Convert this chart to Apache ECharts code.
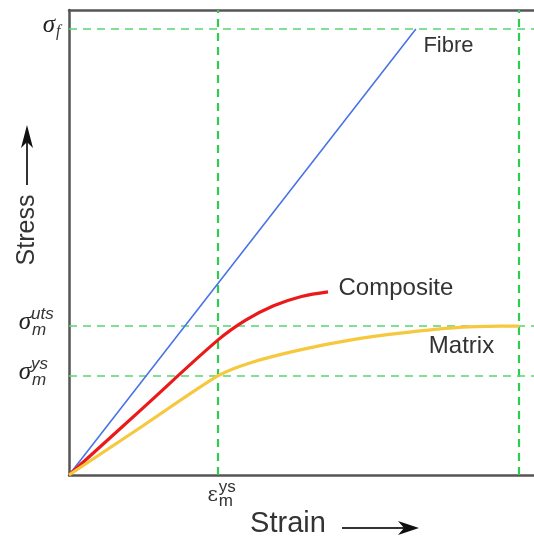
<!DOCTYPE html>
<html><head><meta charset="utf-8">
<script src="https://cdn.jsdelivr.net/npm/echarts@6/dist/echarts.min.js"></script>
<style>html,body{margin:0;padding:0;background:#fff}#c{width:534px;height:537px}</style>
</head><body><div id="c"></div>
<script>
// ---- data (arbitrary units) ----
const fibreX = [0, 37.3, 74.6];
const fibreY = [0, 47.95, 95.9];
const compositeX = [0, 16.0, 32.0, 38.0, 44.0, 50.0, 55.7];
const compositeY = [0, 14.5, 29.0, 33.3, 36.4, 38.4, 39.4];
const matrixX = [0, 16.0, 32.0, 38.9, 49.7, 60.4, 71.2, 81.9, 92.7, 96.8];
const matrixY = [0, 10.65, 21.3, 24.1, 26.9, 29.0, 30.5, 31.6, 32.0, 32.0];
const seriesNames = ['Fibre', 'Composite', 'Matrix'];
const yTickValues = [95.9, 32.0, 21.3];
const yTickSub = ['f', 'm', 'm'];
const yTickSup = ['', 'uts', 'ys'];
const xTickValues = [32.0];
const xTickSub = ['m'];
const xTickSup = ['ys'];
const xGuideValues = [32.0, 96.8];
const yGuideValues = [95.9, 32.0, 21.3];
const axisTitles = ['Strain', 'Stress'];

const zip = (xs, ys) => xs.map((x, i) => [x, ys[i]]);
const FONT = 'Liberation Sans, Arial, sans-serif';
const chart = echarts.init(document.getElementById('c'), null, {renderer: 'canvas'});

function labelPoint(coord, text, size) {
  return {
    symbol: 'circle', symbolSize: 1, silent: true,
    itemStyle: {color: 'rgba(0,0,0,0)'},
    data: [{coord: coord, value: text}],
    label: {show: true, position: 'inside', formatter: text, color: '#333',
            fontFamily: FONT, fontSize: size}
  };
}

const guideLines = [];
xGuideValues.forEach(v => guideLines.push({xAxis: v, lineStyle: {color: '#2ecc4f', width: 2.2, type: [8, 6]}}));
yGuideValues.forEach(v => guideLines.push({yAxis: v, lineStyle: {color: '#55d673', width: 1.6, type: [8, 6]}}));

const axisLineStyle = {show: true, lineStyle: {color: '#555', width: 2.5}};

chart.setOption({
  animation: false,
  backgroundColor: '#fff',
  grid: {left: 69, top: 10, right: 0, bottom: 62},
  xAxis: [
    {type: 'value', min: 0, max: 100, position: 'bottom', axisLine: axisLineStyle,
     axisTick: {show: false}, axisLabel: {show: false}, splitLine: {show: false}},
    {type: 'value', min: 0, max: 100, position: 'top', axisLine: axisLineStyle,
     axisTick: {show: false}, axisLabel: {show: false}, splitLine: {show: false}}
  ],
  yAxis: {type: 'value', min: 0, max: 100, axisLine: axisLineStyle,
          axisTick: {show: false}, axisLabel: {show: false}, splitLine: {show: false}},
  series: [
    {name: seriesNames[0], type: 'line', data: zip(fibreX, fibreY), showSymbol: false,
     lineStyle: {color: '#4a74e6', width: 1.6}, z: 3,
     markLine: {silent: true, symbol: 'none', label: {show: false}, data: guideLines, z: 1},
     markPoint: labelPoint([81.6, 92.2], seriesNames[0], 22)},
    {name: seriesNames[1], type: 'line', data: zip(compositeX, compositeY), showSymbol: false,
     smooth: 0.35, lineStyle: {color: '#ea1a1a', width: 3.2}, z: 4,
     markPoint: labelPoint([70.3, 40.2], seriesNames[1], 24)},
    {name: seriesNames[2], type: 'line', data: zip(matrixX, matrixY), showSymbol: false,
     smooth: 0.25, lineStyle: {color: '#f6c83e', width: 3.2}, z: 4,
     markPoint: labelPoint([84.4, 27.6], seriesNames[2], 24)}
  ]
});

// tick labels (sigma / epsilon with sub- and superscripts) placed through the axis scales
const g = [];
const greek = {fontFamily: 'Liberation Serif, DejaVu Serif, serif', fontStyle: 'italic', fontSize: 25, fill: '#222'};
const small = {fontFamily: FONT, fontStyle: 'italic', fontSize: 17, fill: '#333'};
yTickValues.forEach((v, i) => {
  const p = chart.convertToPixel({xAxisIndex: 0, yAxisIndex: 0}, [0, v]);
  const hasSup = yTickSup[i] !== '';
  const xr = hasSup ? 31 : 55;
  g.push({type: 'text', x: xr, y: p[1] - 4, style: Object.assign({text: 'σ', align: 'right', verticalAlign: 'middle'}, greek)});
  g.push({type: 'text', x: xr + 1, y: p[1] + (hasSup ? 4 : 3), style: Object.assign({text: yTickSub[i], align: 'left', verticalAlign: 'middle'}, small, hasSup ? {} : {fontFamily: 'Liberation Serif, serif', fontSize: 16})});
  if (hasSup) g.push({type: 'text', x: xr, y: p[1] - 12, style: Object.assign({text: yTickSup[i], align: 'left', verticalAlign: 'middle'}, small)});
});
xTickValues.forEach((v, i) => {
  const p = chart.convertToPixel({xAxisIndex: 0, yAxisIndex: 0}, [v, 0]);
  g.push({type: 'text', x: p[0], y: p[1] + 21, style: {text: 'ε', align: 'right', verticalAlign: 'middle', fontFamily: 'DejaVu Serif, serif', fontSize: 20, fill: '#333'}});
  g.push({type: 'text', x: p[0] + 1, y: p[1] + 12, style: {text: xTickSup[i], align: 'left', verticalAlign: 'middle', fontFamily: FONT, fontSize: 17, fill: '#333'}});
  g.push({type: 'text', x: p[0] + 1, y: p[1] + 26, style: {text: xTickSub[i], align: 'left', verticalAlign: 'middle', fontFamily: FONT, fontSize: 17, fill: '#333'}});
});
// axis titles with arrows
g.push({type: 'text', x: 288, y: 524, style: {text: axisTitles[0], align: 'center', verticalAlign: 'middle', fontFamily: FONT, fontSize: 29, fill: '#333'}});
g.push({type: 'line', shape: {x1: 342, y1: 528, x2: 405, y2: 528}, style: {stroke: '#333', lineWidth: 2}});
g.push({type: 'polygon', shape: {points: [[398, 521], [419, 528], [398, 535], [404, 528]]}, style: {fill: '#111'}});
g.push({type: 'text', x: 27, y: 230, rotation: Math.PI / 2, style: {text: axisTitles[1], align: 'center', verticalAlign: 'middle', fontFamily: FONT, fontSize: 25, fill: '#333'}});
g.push({type: 'line', shape: {x1: 27, y1: 185, x2: 27, y2: 140}, style: {stroke: '#333', lineWidth: 2}});
g.push({type: 'polygon', shape: {points: [[21, 148], [27, 125], [33, 148], [27, 142]]}, style: {fill: '#111'}});
chart.setOption({graphic: g});
</script>
</body></html>
